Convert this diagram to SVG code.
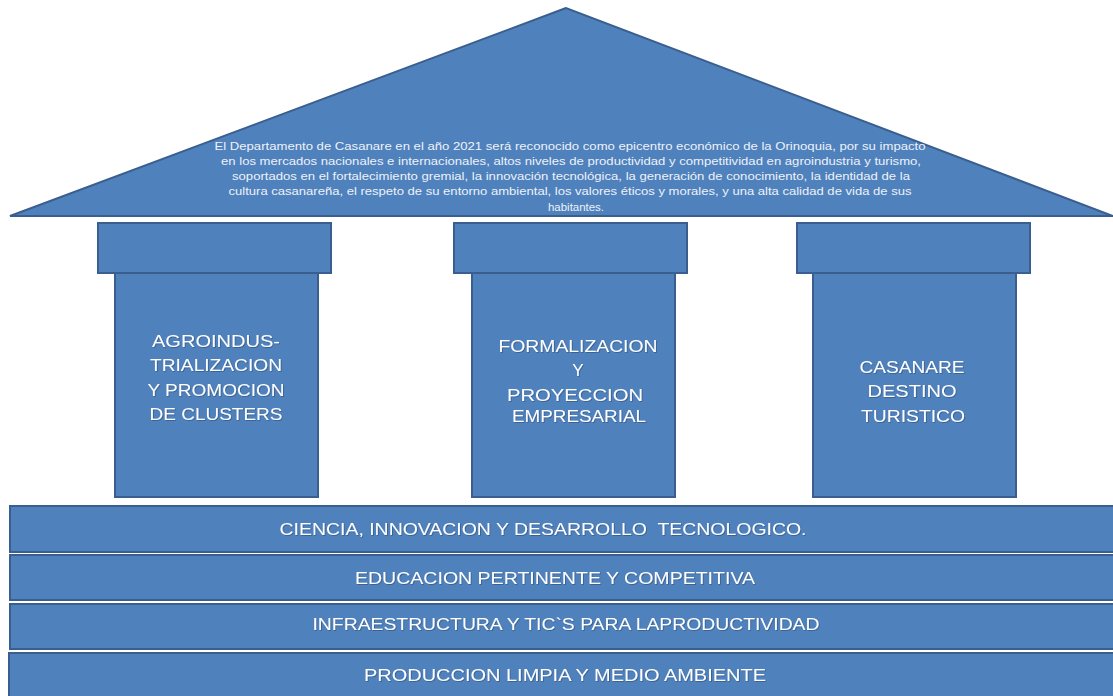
<svg xmlns="http://www.w3.org/2000/svg" width="1113" height="696" viewBox="0 0 1113 696">
<style>
.s{fill:#4F81BD;stroke:#3A5F8E;stroke-width:2}
.t{fill:#FFFFFF;font-family:"Liberation Sans",Arial,sans-serif;text-anchor:middle;filter:url(#sh)}
.r{font-size:10.5px;fill:#EEF2F8;filter:none}
.p{font-size:17px}
.b{font-size:16.5px;white-space:pre}
</style>
<defs>
<filter id="sh" x="-5%" y="-30%" width="110%" height="160%">
<feDropShadow dx="0.8" dy="0.8" stdDeviation="0.5" flood-color="#000000" flood-opacity="0.3"/>
</filter>
</defs>
<rect width="1113" height="696" fill="#FFFFFF"/>
<g id="roof">
<polygon class="s" points="566,8 10,216 1113,216"/>
<text class="t r" x="570" y="150" textLength="711" lengthAdjust="spacingAndGlyphs">El Departamento de Casanare en el año 2021 será reconocido como epicentro económico de la Orinoquia, por su impacto</text>
<text class="t r" x="571" y="165" textLength="700" lengthAdjust="spacingAndGlyphs">en los mercados nacionales e internacionales, altos niveles de productividad y competitividad en agroindustria y turismo,</text>
<text class="t r" x="571" y="180" textLength="678" lengthAdjust="spacingAndGlyphs">soportados en el fortalecimiento gremial, la innovación tecnológica, la generación de conocimiento, la identidad de la</text>
<text class="t r" x="570" y="195" textLength="683" lengthAdjust="spacingAndGlyphs">cultura casanareña, el respeto de su entorno ambiental, los valores éticos y morales, y una alta calidad de vida de sus</text>
<text class="t r" x="576" y="211" textLength="56" lengthAdjust="spacingAndGlyphs">habitantes.</text>
</g>
<g id="pillar1">
<rect class="s" x="115" y="273" width="203" height="224"/>
<rect class="s" x="98" y="223" width="233" height="50"/>
<text class="t p" x="216" y="347" textLength="128" lengthAdjust="spacingAndGlyphs">AGROINDUS-</text>
<text class="t p" x="216" y="371" textLength="132" lengthAdjust="spacingAndGlyphs">TRIALIZACION</text>
<text class="t p" x="216" y="396" textLength="137" lengthAdjust="spacingAndGlyphs">Y PROMOCION</text>
<text class="t p" x="216" y="420" textLength="133" lengthAdjust="spacingAndGlyphs">DE CLUSTERS</text>
</g>
<g id="pillar2">
<rect class="s" x="472" y="273" width="203" height="224"/>
<rect class="s" x="454" y="223" width="233" height="50"/>
<text class="t p" x="578" y="352" textLength="159" lengthAdjust="spacingAndGlyphs">FORMALIZACION</text>
<text class="t p" x="578" y="376">Y</text>
<text class="t p" x="575" y="401" textLength="136" lengthAdjust="spacingAndGlyphs">PROYECCION</text>
<text class="t p" x="579" y="422" textLength="134" lengthAdjust="spacingAndGlyphs">EMPRESARIAL</text>
</g>
<g id="pillar3">
<rect class="s" x="813" y="273" width="203" height="224"/>
<rect class="s" x="797" y="223" width="233" height="50"/>
<text class="t p" x="912" y="373" textLength="105" lengthAdjust="spacingAndGlyphs">CASANARE</text>
<text class="t p" x="912" y="397" textLength="89" lengthAdjust="spacingAndGlyphs">DESTINO</text>
<text class="t p" x="913" y="422" textLength="104" lengthAdjust="spacingAndGlyphs">TURISTICO</text>
</g>
<g id="band1">
<rect class="s" x="10" y="506" width="1110" height="46"/>
<text class="t b" x="543" y="535" textLength="527" lengthAdjust="spacingAndGlyphs" xml:space="preserve">CIENCIA, INNOVACION Y DESARROLLO  TECNOLOGICO.</text>
</g>
<g id="band2">
<rect class="s" x="10" y="555" width="1110" height="45"/>
<text class="t b" x="555" y="584" textLength="400" lengthAdjust="spacingAndGlyphs">EDUCACION PERTINENTE Y COMPETITIVA</text>
</g>
<g id="band3">
<rect class="s" x="10" y="604" width="1110" height="45"/>
<text class="t b" x="566" y="630" textLength="507" lengthAdjust="spacingAndGlyphs">INFRAESTRUCTURA Y TIC`S PARA LAPRODUCTIVIDAD</text>
</g>
<g id="band4">
<rect class="s" x="9" y="653" width="1111" height="50"/>
<text class="t b" x="565" y="681" textLength="402" lengthAdjust="spacingAndGlyphs">PRODUCCION LIMPIA Y MEDIO AMBIENTE</text>
</g>
</svg>
